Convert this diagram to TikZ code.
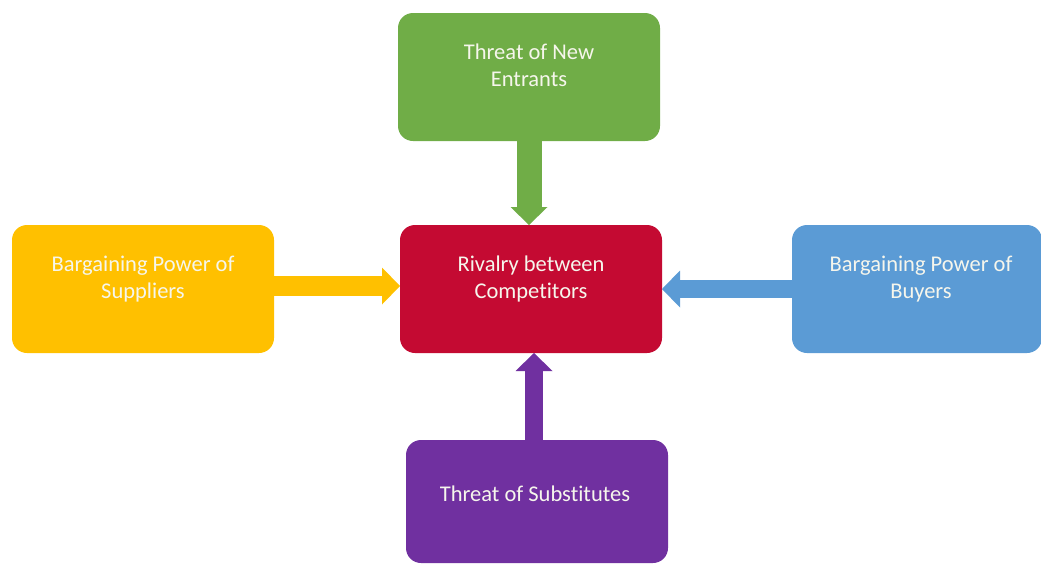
\documentclass[tikz,border=0pt]{standalone}
\usepackage{fontspec}
\setmainfont[Ligatures=NoCommon]{Carlito}
\usetikzlibrary{arrows.meta,positioning}

\definecolor{entrantgreen}{RGB}{112,173,71}
\definecolor{rivalred}{RGB}{196,10,50}
\definecolor{supplieryellow}{RGB}{255,192,0}
\definecolor{buyerblue}{RGB}{91,155,213}
\definecolor{substitutepurple}{RGB}{112,48,160}
\definecolor{forcetextcolor}{RGB}{246,246,236}

\tikzset{
  forcebox/.style={rounded corners=15pt, minimum width=262pt, minimum height=128pt,
    inner sep=0pt, outer sep=0pt},
  forcetext/.style={text=forcetextcolor, align=center, inner sep=0pt,
    font=\fontsize{22.5}{27}\selectfont},
  forcearrow/.style={line width=19pt, -{Triangle[width=37pt,length=18pt,line width=0pt]}}
}

\begin{document}
\begin{tikzpicture}[x=1pt,y=-1pt]
                \useasboundingbox (0,0) rectangle (1041,565);
                \clip (0,0) rectangle (1041,565);

                % Drawing the five boxes
                \node [forcebox, fill=entrantgreen] (entrants) at (529.0,77.0) {};%
                \node [forcebox, fill=rivalred] (rivalry) at (531.0,289.0) {};%
                \node [forcebox, fill=supplieryellow] (suppliers) at (143.0,289.0) {};%
                \node [forcebox, fill=buyerblue, minimum width=250pt] (buyers) at (917.0,289.0) {};%
                \node [forcebox, fill=substitutepurple, minimum height=123pt] (substitutes) at (537.0,501.5) {};%

                % Marking the box texts
                \node [forcetext, below=31pt of entrants.north] (entrantstext) {Threat of New\\Entrants};%
                \node [forcetext, below=31pt of rivalry.north] (rivalrytext) {Rivalry between\\Competitors};%
                \node [forcetext, below=31pt of suppliers.north] (supplierstext) {Bargaining Power of\\Suppliers};%
                \node [forcetext, below=31pt of buyers.north, xshift=4pt] (buyerstext) {Bargaining Power of\\Buyers};%
                \node [forcetext, below=46pt of substitutes.north, xshift=-2pt] (substitutestext) {Threat of Substitutes};%

                % Drawing arrows into the rivalry box
                \draw [forcearrow, entrantgreen, line width=25pt] (entrants.south) -- (entrants.south |- rivalry.north);%
                \draw [forcearrow, supplieryellow, line width=20pt] ([yshift=3pt]suppliers.east) -- ([yshift=3pt]rivalry.west);%
                \draw [forcearrow, buyerblue, line width=18pt] (buyers.west) -- (rivalry.east);%
                \draw [forcearrow, substitutepurple, line width=18pt] ([xshift=-3pt]substitutes.north) -- ([xshift=-3pt]substitutes.north |- rivalry.south);%
\end{tikzpicture}
\end{document}
